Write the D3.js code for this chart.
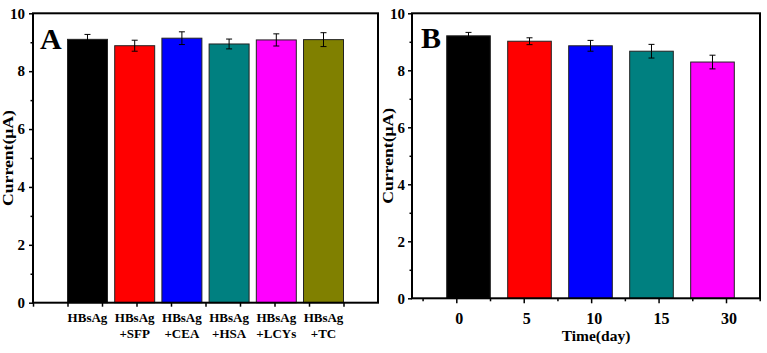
<!DOCTYPE html>
<html><head><meta charset="utf-8">
<script src="https://cdn.jsdelivr.net/npm/d3@7"></script>
<style>body{margin:0;background:#fff}svg{display:block}text{font-family:"Liberation Serif","Times New Roman",serif;font-weight:bold;fill:#000}</style>
</head><body>
<svg id="c" width="767" height="353"></svg>
<script>
// Panel A data
const catsA = [["HBsAg"],["HBsAg","+SFP"],["HBsAg","+CEA"],["HBsAg","+HSA"],["HBsAg","+LCYs"],["HBsAg","+TC"]];
const valsA = [9.10, 8.88, 9.14, 8.94, 9.08, 9.09];
const errsA = [0.17, 0.19, 0.22, 0.17, 0.21, 0.24];
const colorsA = ["#000000","#ff0000","#0000ff","#008080","#ff00ff","#808000"];
// Panel B data
const catsB = ["0","5","10","15","30"];
const valsB = [9.21, 9.02, 8.86, 8.67, 8.29];
const errsB = [0.12, 0.12, 0.19, 0.24, 0.24];
const colorsB = ["#000000","#ff0000","#0000ff","#008080","#ff00ff"];
const yTicks = [0,2,4,6,8,10];
const yMinor = [1,3,5,7,9];

const svg = d3.select("#c");

function panel(o){
  const g = svg.append("g");
  const y = d3.scaleLinear().domain([0,10]).range([o.bottom, o.top]);
  const xb = d3.scaleBand().domain(d3.range(o.vals.length)).range(o.barRange).paddingInner(o.pad).paddingOuter(0);
  g.selectAll("rect.bar").data(o.vals).join("rect")
    .attr("x",(d,i)=>xb(i)).attr("width",xb.bandwidth())
    .attr("y",d=>y(d)).attr("height",d=>y(0)-y(d))
    .attr("fill",(d,i)=>o.colors[i]).attr("stroke","#222").attr("stroke-width",1);
  const eb = g.selectAll("g.eb").data(o.vals).join("g");
  eb.append("line").attr("x1",(d,i)=>xb(i)+xb.bandwidth()/2).attr("x2",(d,i)=>xb(i)+xb.bandwidth()/2)
    .attr("y1",(d,i)=>y(d-o.errs[i])).attr("y2",(d,i)=>y(d+o.errs[i])).attr("stroke","#000").attr("stroke-width",1);
  [-1,1].forEach(s=>{
    eb.append("line").attr("x1",(d,i)=>xb(i)+xb.bandwidth()/2-3).attr("x2",(d,i)=>xb(i)+xb.bandwidth()/2+3)
      .attr("y1",(d,i)=>y(d+s*o.errs[i])).attr("y2",(d,i)=>y(d+s*o.errs[i])).attr("stroke","#000").attr("stroke-width",1);
  });
  g.append("rect").attr("x",o.left).attr("y",o.top).attr("width",o.right-o.left).attr("height",o.bottom-o.top)
    .attr("fill","none").attr("stroke","#000").attr("stroke-width",2);
  const ya = g.append("g").attr("transform",`translate(${o.left},0)`)
    .call(d3.axisLeft(y).tickValues(yTicks).tickSize(4).tickPadding(o.yPad).tickFormat(d3.format("d")));
  ya.select(".domain").remove();
  ya.selectAll(".tick line").attr("stroke","#000").attr("stroke-width",1.5);
  ya.selectAll("text").style("font-size","15px").style("font-family","Liberation Serif").style("font-weight","bold").attr("fill","#000");
  const ym = g.append("g").attr("transform",`translate(${o.left},0)`)
    .call(d3.axisLeft(y).tickValues(yMinor).tickSize(2.5).tickFormat(""));
  ym.select(".domain").remove();
  ym.selectAll(".tick line").attr("stroke","#000").attr("stroke-width",1.5);
  o.xTicks(g, y);
  g.append("text").attr("transform",`translate(${o.ytX},${(o.top+o.bottom)/2}) rotate(-90)`)
    .attr("text-anchor","middle").attr("dy","0.35em").style("font-size","14px")
    .attr("textLength",96).attr("lengthAdjust","spacingAndGlyphs").text("Current(μA)");
  g.append("text").attr("x",o.letterX).attr("y",o.letterY).style("font-size","30px").text(o.letter);
  return {xb,y};
}

// Panel A
const xA = d3.scaleLinear().domain([0,10]).range([33,378]);
panel({
  vals:valsA, errs:errsA, colors:colorsA, left:33, right:378, top:13.3, bottom:302.7,
  barRange:[xA(1), xA(9)], pad:0.153, yPad:4, ytX:8, letter:"A", letterX:40, letterY:49,
  xTicks:(g,y)=>{
    const ax = g.append("g").attr("transform",`translate(0,${302.7})`)
      .call(d3.axisBottom(xA).tickValues(d3.range(0,10)).tickSize(4).tickFormat(""));
    ax.select(".domain").remove();
    ax.selectAll(".tick line").attr("stroke","#000").attr("stroke-width",1.5);
  }
});
const xbA = d3.scaleBand().domain(d3.range(valsA.length)).range([xA(1),xA(9)]).paddingInner(0.153);
svg.append("g").selectAll("text").data(catsA).join("text")
  .attr("text-anchor","middle").style("font-size","13px")
  .attr("x",(d,i)=>xbA(i)+xbA.bandwidth()/2).attr("y",322)
  .each(function(d){
    const t=d3.select(this);
    d.forEach((s,k)=>t.append("tspan").attr("x",t.attr("x")).attr("dy",k?"1.25em":0).text(s));
  });

// Panel B
const xB = d3.scaleLinear().domain([0,4]).range([456.3,726]);
panel({
  vals:valsB, errs:errsB, colors:colorsB, left:412, right:760, top:13.3, bottom:298.3,
  barRange:[446.7,734.3], pad:0.285, yPad:3, ytX:388, letter:"B", letterX:421, letterY:48,
  xTicks:(g,y)=>{
    const ax = g.append("g").attr("transform",`translate(0,${298.3})`)
      .call(d3.axisBottom(xB).tickValues(d3.range(0,5)).tickSize(5).tickFormat(""));
    ax.select(".domain").remove();
    ax.selectAll(".tick line").attr("stroke","#000").attr("stroke-width",1.5);
    const am = g.append("g").attr("transform",`translate(0,${298.3})`)
      .call(d3.axisBottom(xB).tickValues(d3.range(-0.5,5,1)).tickSize(3).tickFormat(""));
    am.select(".domain").remove();
    am.selectAll(".tick line").attr("stroke","#000").attr("stroke-width",1.5);
    g.append("g").selectAll("text").data(catsB).join("text")
      .attr("text-anchor","middle").attr("dy","0.35em").style("font-size","16px")
      .attr("x",(d,i)=>xB(i)+3).attr("y",318).text(d=>d);
    g.append("text").attr("x",596).attr("y",341).attr("text-anchor","middle").style("font-size","15.5px").text("Time(day)");
  }
});
</script>
</body></html>
